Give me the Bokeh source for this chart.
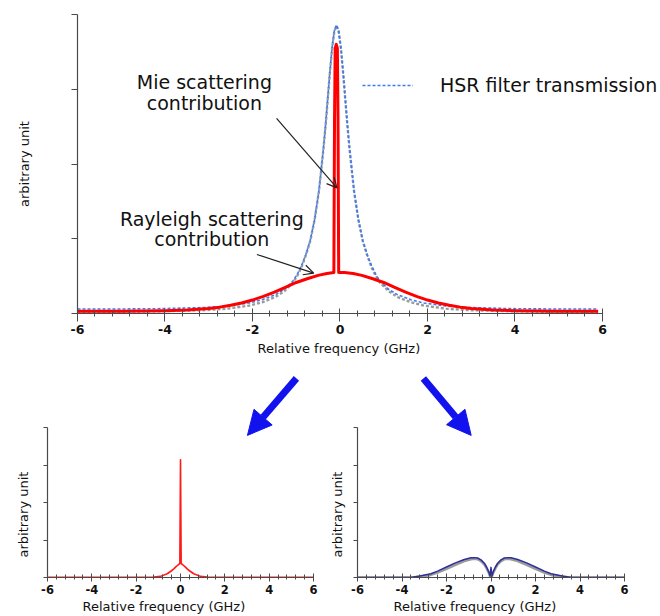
from bokeh.plotting import figure
from bokeh.layouts import column, row
from bokeh.models import (Range1d, FixedTicker, Label, Arrow, NormalHead, OpenHead,
                          Legend, LegendItem, Title)
from bokeh.embed import file_html
from bokeh.resources import INLINE

FONT = "DejaVu Sans"
AXIS_COLOR = "#4a4a4a"
TXT = "#111111"

# ---------------- data ----------------
x_ticks = [-6, -4, -2, 0, 2, 4, 6]
x_tick_labels = ["-6", "-4", "-2", "0", "2", "4", "6"]
x_minor_ticks = [-5.6, -5.2, -4.8, -4.4, -3.6, -3.2, -2.8, -2.4, -1.6, -1.2, -0.8, -0.4,
                 0.4, 0.8, 1.2, 1.6, 2.4, 2.8, 3.2, 3.6, 4.4, 4.8, 5.2, 5.6]
y_ticks = [0, 1, 2, 3, 4]

# HSR filter transmission (blue dashed) and its grey twin
hsr_x = [-6, -5.08, -4.08, -3.08, -2.58, -2.08, -1.78, -1.48, -1.28, -1.08, -0.98, -0.88,
         -0.78, -0.68, -0.58, -0.48, -0.38, -0.33, -0.28, -0.23, -0.18, -0.13, -0.08,
         -0.03, 0.02, 0.07, 0.12, 0.17, 0.22, 0.32, 0.42, 0.52, 0.62, 0.72, 0.82, 0.92,
         1.12, 1.32, 1.62, 1.92, 2.42, 2.92, 3.92, 4.92, 5.9]
hsr_y = [0.06, 0.06, 0.065, 0.08, 0.10, 0.14, 0.185, 0.25, 0.32, 0.43, 0.52, 0.64,
         0.79, 0.98, 1.26, 1.65, 2.20, 2.52, 2.88, 3.24, 3.56, 3.78, 3.86,
         3.78, 3.56, 3.24, 2.88, 2.52, 2.20, 1.65, 1.26, 0.98, 0.79, 0.64, 0.52, 0.43,
         0.32, 0.25, 0.185, 0.14, 0.10, 0.08, 0.065, 0.06, 0.06]
hsr_ref_y = [0.02, 0.022, 0.03, 0.045, 0.065, 0.105, 0.15, 0.22, 0.295, 0.41, 0.50, 0.62,
             0.78, 0.97, 1.25, 1.64, 2.19, 2.51, 2.87, 3.23, 3.55, 3.77, 3.85,
             3.77, 3.55, 3.23, 2.87, 2.51, 2.19, 1.64, 1.25, 0.97, 0.78, 0.62, 0.50, 0.41,
             0.295, 0.22, 0.15, 0.105, 0.065, 0.045, 0.03, 0.022, 0.02]

# total backscatter signal: Rayleigh + Mie (red)
sig_x = [-6, -5, -4.5, -4, -3.5, -3, -2.75, -2.5, -2.25, -2, -1.75, -1.5, -1.25, -1,
         -0.75, -0.5, -0.3, -0.14, -0.125, -0.11, -0.085, -0.06, -0.045, -0.03, 0.1,
         0.3, 0.5, 0.75, 1, 1.25, 1.5, 1.75, 2, 2.25, 2.5, 2.75, 3, 3.5, 4, 4.5, 5, 5.9]
sig_y = [0.03, 0.03, 0.033, 0.038, 0.048, 0.068, 0.085, 0.11, 0.14, 0.18, 0.23, 0.285,
         0.35, 0.415, 0.465, 0.51, 0.535, 0.548, 2.6, 3.55, 3.6, 3.55, 2.6, 0.55, 0.548,
         0.535, 0.51, 0.465, 0.415, 0.35, 0.285, 0.23, 0.18, 0.14, 0.11, 0.085, 0.068,
         0.048, 0.038, 0.033, 0.03, 0.03]

# transmitted part (bottom left, red)
mie_x = [-6, -2, -1.2, -0.9, -0.6, -0.45, -0.3, -0.2, -0.1, -0.03, 0, 0.03, 0.1, 0.2,
         0.3, 0.45, 0.6, 0.9, 1.2, 2, 6]
mie_y = [0.005, 0.005, 0.012, 0.03, 0.1, 0.16, 0.23, 0.29, 0.34, 0.37, 3.14, 0.37, 0.34,
         0.29, 0.23, 0.16, 0.1, 0.03, 0.012, 0.005, 0.005]

# blocked part (bottom right, navy + grey)
ray_x = [-6, -3.6, -3.2, -2.7, -2.4, -2.0, -1.6, -1.2, -0.9, -0.75, -0.6, -0.45, -0.3,
         -0.2, -0.1, -0.04, 0, 0.04, 0.1, 0.2, 0.3, 0.45, 0.6, 0.75, 0.9, 1.2, 1.6, 2.0,
         2.4, 2.7, 3.2, 3.6, 6]
ray_y = [0, 0, 0.04, 0.10, 0.17, 0.28, 0.39, 0.48, 0.525, 0.53, 0.52, 0.47, 0.38,
         0.28, 0.15, 0.04, 0.27, 0.04, 0.15, 0.28, 0.38, 0.47, 0.52, 0.53, 0.525, 0.48,
         0.39, 0.28, 0.17, 0.10, 0.04, 0, 0]
ray_ref_y = [0, 0, 0.02, 0.07, 0.13, 0.23, 0.34, 0.44, 0.49, 0.50, 0.49, 0.44, 0.35,
             0.25, 0.13, 0.03, 0.03, 0.03, 0.13, 0.25, 0.35, 0.44, 0.49, 0.50, 0.49, 0.44,
             0.34, 0.23, 0.13, 0.07, 0.02, 0, 0]

mie_label = ["Mie scattering", "contribution"]
ray_label = ["Rayleigh scattering", "contribution"]
x_title = "Relative frequency (GHz)"
y_title = "arbitrary unit"


def style_axes(p, tick_font, label_font, ylabel_standoff, ylabel_offset, xlabel_offset,
               xlabel_standoff, major_out, major_in, minor_out, minor_in, ytick_out,
               y_as_axis_label=False):
    xa = p.xaxis[0]
    xa.ticker = FixedTicker(ticks=x_ticks, minor_ticks=x_minor_ticks)
    xa.major_label_overrides = {t: s for t, s in zip(x_ticks, x_tick_labels)}
    xa.bounds = (-6, 6)
    xa.major_tick_out = major_out
    xa.major_tick_in = major_in
    xa.minor_tick_out = minor_out
    xa.minor_tick_in = minor_in
    xa.major_label_standoff = 3
    xa.major_label_text_font = FONT
    xa.major_label_text_font_size = tick_font
    xa.major_label_text_font_style = "bold"
    xa.major_label_text_color = TXT

    ya = p.yaxis[0]
    ya.ticker = FixedTicker(ticks=[], minor_ticks=y_ticks)
    ya.bounds = (0, 4)
    ya.major_label_standoff = 0
    ya.major_tick_in = 0
    ya.minor_tick_out = ytick_out
    ya.minor_tick_in = 0

    for ax in (xa, ya):
        ax.axis_line_color = AXIS_COLOR
        ax.major_tick_line_color = AXIS_COLOR
        ax.minor_tick_line_color = AXIS_COLOR
        ax.axis_line_width = 1.2

    p.add_layout(Title(text=x_title, align="left", offset=xlabel_offset,
                       vertical_align="bottom", standoff=xlabel_standoff,
                       text_font=FONT, text_font_size=label_font,
                       text_font_style="normal", text_color=TXT), "below")
    if y_as_axis_label:
        ya.major_tick_out = ytick_out
        ya.axis_label = y_title
        ya.axis_label_standoff = ylabel_standoff
        ya.axis_label_text_font = FONT
        ya.axis_label_text_font_size = label_font
        ya.axis_label_text_font_style = "normal"
        ya.axis_label_text_color = TXT
    else:
        ya.major_tick_out = 0
        p.add_layout(Title(text=y_title, align="left", offset=ylabel_offset,
                           vertical_align="bottom", standoff=ylabel_standoff,
                           text_font=FONT, text_font_size=label_font,
                           text_font_style="normal", text_color=TXT), "left")

    p.xgrid.visible = False
    p.ygrid.visible = False
    p.outline_line_color = None


# ---------------- main chart ----------------
main = figure(width=660, height=362, output_backend="svg", toolbar_location=None,
              x_range=Range1d(-6, 7.326), y_range=Range1d(0, 4),
              min_border_left=77, min_border_right=0, min_border_top=14,
              min_border_bottom=49)
style_axes(main, tick_font="12.5px", label_font="13px", ylabel_standoff=40,
           ylabel_offset=116, xlabel_offset=180, xlabel_standoff=4, major_out=8,
           major_in=5, minor_out=3, minor_in=3, ytick_out=6, y_as_axis_label=True)

grey_r = main.line(hsr_x, hsr_ref_y, line_color="#9a9a9a", line_width=2.4,
                   line_dash="3 2")
blue_r = main.line(hsr_x, hsr_y, line_color="#3b7cf2", line_width=1.6,
                   line_dash="3 2")
main.line(sig_x, sig_y, line_color="#ff0000", line_width=3, line_join="round")

legend = Legend(items=[LegendItem(label="HSR filter transmission", renderers=[blue_r])],
                location=(285, 217), glyph_width=51, glyph_height=20,
                label_height=20, label_standoff=27, label_text_font=FONT,
                label_text_font_size="19px", label_text_color=TXT,
                padding=0, margin=0, spacing=0, border_line_alpha=0,
                background_fill_alpha=0)
main.add_layout(legend)

for txt, yy in zip(mie_label, [3.10, 2.82]):
    main.add_layout(Label(x=-3.10, y=yy, text=txt, text_align="center",
                          text_baseline="middle", text_font=FONT,
                          text_font_size="19px", text_color=TXT))
for txt, yy in zip(ray_label, [1.27, 0.997]):
    main.add_layout(Label(x=-2.93, y=yy, text=txt, text_align="center",
                          text_baseline="middle", text_font=FONT,
                          text_font_size="19px", text_color=TXT))

main.add_layout(Arrow(x_start=-1.45, y_start=2.61, x_end=-0.07, y_end=1.68,
                      line_color="#222222", line_width=1.2,
                      end=OpenHead(size=10, line_color="#222222", line_width=1.2)))
main.add_layout(Arrow(x_start=-1.90, y_start=0.79, x_end=-0.60, y_end=0.54,
                      line_color="#222222", line_width=1.2,
                      end=OpenHead(size=10, line_color="#222222", line_width=1.2)))

# ---------------- bottom left ----------------
# frame extended upward (y to 5.52) so the blue arrow fits; y axis drawn only 0..4
bl = figure(width=318, height=254, output_backend="svg", toolbar_location=None,
            x_range=Range1d(-6, 6), y_range=Range1d(0, 5.52),
            min_border_left=47, min_border_right=5, min_border_top=8,
            min_border_bottom=39)
style_axes(bl, tick_font="11.5px", label_font="13px", ylabel_standoff=26,
           ylabel_offset=20, xlabel_offset=35, xlabel_standoff=0, major_out=4,
           major_in=4, minor_out=2, minor_in=3, ytick_out=4)
bl.line(mie_x, mie_y, line_color="#ff1a1a", line_width=1.6, line_join="round")
bl.add_layout(Arrow(x_start=5.23, y_start=5.31, x_end=3.02, y_end=3.79,
                    line_color="#1212ee", line_width=7,
                    end=NormalHead(size=24, fill_color="#1212ee", line_color="#1212ee")))

# ---------------- bottom right ----------------
br = figure(width=342, height=254, output_backend="svg", toolbar_location=None,
            x_range=Range1d(-6, 6), y_range=Range1d(0, 5.52),
            min_border_left=38, min_border_right=36, min_border_top=8,
            min_border_bottom=39)
style_axes(br, tick_font="11.5px", label_font="13px", ylabel_standoff=18,
           ylabel_offset=20, xlabel_offset=36, xlabel_standoff=0, major_out=4,
           major_in=4, minor_out=2, minor_in=3, ytick_out=4)
br.line(ray_x, ray_ref_y, line_color="#9a9a9a", line_width=2.6, line_join="round")
br.line(ray_x, ray_y, line_color="#2e2e9c", line_width=1.5, line_join="round")
br.add_layout(Arrow(x_start=-3.04, y_start=5.31, x_end=-0.89, y_end=3.79,
                    line_color="#1212ee", line_width=7,
                    end=NormalHead(size=24, fill_color="#1212ee", line_color="#1212ee")))

layout = column(main, row(bl, br, spacing=0), spacing=0)
open("out.html", "w").write(file_html(layout, INLINE))
